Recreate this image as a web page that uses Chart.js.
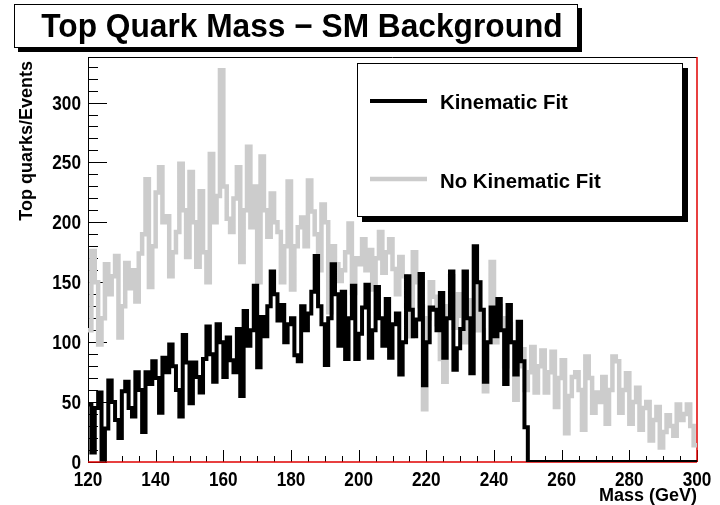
<!DOCTYPE html>
<html>
<head>
<meta charset="utf-8">
<script src="https://cdn.jsdelivr.net/npm/chart.js@4.4.1/dist/chart.umd.min.js"></script>
<style>
  html, body { margin: 0; padding: 0; background: #fff; }
  canvas { display: block; }
</style>
</head>
<body>
<canvas id="massChart" width="720" height="505"></canvas>
<script>
// histogram binning: 180 bins of 1 GeV from 120 to 300
const massLow = 120;
const binWidth = 1;

// Kinematic Fit (black), one value per GeV
const kinematicFit = [
  48, 8, 45, 58, 2, 28, 68, 50, 35, 20,
  59, 67, 45, 38, 75, 60, 25, 75, 65, 84,
  70, 41, 87, 75, 98, 80, 60, 38, 106, 83,
  49, 83, 71, 58, 86, 113, 90, 67, 115, 100,
  71, 104, 85, 75, 111, 55, 126, 97, 110, 147,
  79, 121, 105, 130, 159, 140, 118, 131, 100, 115,
  120, 89, 84, 130, 110, 124, 142, 172, 130, 115,
  81, 120, 165, 140, 97, 142, 86, 120, 147, 86,
  107, 129, 148, 87, 110, 146, 120, 97, 136, 87,
  115, 124, 73, 100, 155, 127, 105, 119, 157, 64,
  100, 129, 127, 110, 141, 87, 120, 159, 77, 95,
  111, 159, 120, 74, 180, 150, 127, 67, 100, 129,
  105, 136, 110, 65, 131, 100, 73, 117, 84, 29,
  0, 0, 0, 0, 0, 0, 0, 0, 0, 0,
  0, 0, 0, 0, 0, 0, 0, 0, 0, 0,
  0, 0, 0, 0, 0, 0, 0, 0, 0, 0,
  0, 0, 0, 0, 0, 0, 0, 0, 0, 0,
  0, 0, 0, 0, 0, 0, 0, 0, 0, 0
];

// No Kinematic Fit (grey), one value per GeV
const noKinematicFit = [
  110, 176, 150, 98, 120, 165, 140, 155, 172, 104,
  130, 166, 145, 160, 134, 174, 190, 236, 146, 180,
  225, 246, 200, 205, 155, 175, 192, 249, 210, 171,
  242, 200, 163, 226, 175, 150, 257, 200, 222, 327,
  230, 203, 192, 220, 246, 167, 210, 263, 196, 230,
  150, 255, 210, 188, 224, 200, 192, 150, 180, 234,
  144, 180, 196, 204, 180, 235, 209, 190, 160, 215,
  200, 125, 180, 165, 151, 160, 175, 199, 141, 170,
  165, 186, 160, 177, 144, 170, 192, 158, 175, 186,
  161, 140, 171, 155, 130, 105, 175, 150, 130, 44,
  120, 150, 138, 115, 86, 67, 130, 155, 112, 140,
  122, 100, 120, 135, 110, 150, 110, 59, 100, 167,
  100, 130, 120, 80, 115, 100, 52, 80, 94, 60,
  75, 96, 58, 80, 93, 58, 75, 92, 46, 70,
  85, 24, 55, 71, 75, 60, 27, 88, 70, 41,
  58, 50, 71, 32, 60, 88, 84, 41, 60, 74,
  32, 50, 62, 27, 45, 50, 18, 35, 46, 12,
  25, 39, 30, 22, 48, 35, 40, 48, 30, 14
];

const xTickValues = [120, 140, 160, 180, 200, 220, 240, 260, 280, 300];
const yTickValues = [0, 50, 100, 150, 200, 250, 300];

const seriesNames = ["Kinematic Fit", "No Kinematic Fit"];
const titleText = "Top Quark Mass \u2212 SM Background";
const xTitle = "Mass (GeV)";
const yTitle = "Top quarks/Events";

const FONT = '"Liberation Sans", Arial, Helvetica, sans-serif';
const BLACK = "#000000";
const GREY = "#cccccc";
const RED = "#e00000";

// step points on bin low edges, closing point at the upper edge
function toSteps(values) {
  const pts = values.map((v, i) => ({ x: massLow + i * binWidth, y: v }));
  pts.push({ x: massLow + values.length * binWidth, y: values[values.length - 1] });
  return pts;
}

function drawText(ctx, text, x, y, size, align, sx) {
  ctx.save();
  ctx.font = "bold " + size + "px " + FONT;
  ctx.textAlign = align;
  ctx.textBaseline = "alphabetic";
  ctx.fillStyle = BLACK;
  ctx.translate(x, y);
  ctx.scale(sx, 1);
  ctx.fillText(text, 0, 0);
  ctx.restore();
}

function line(ctx, x1, y1, x2, y2) {
  ctx.beginPath();
  ctx.moveTo(x1, y1);
  ctx.lineTo(x2, y2);
  ctx.stroke();
}

// ROOT style frame: ticks inside, red bottom / right edges
const rootFrame = {
  id: "rootFrame",
  beforeDatasetsDraw(chart) {
    const { ctx, chartArea: a, scales: { x, y } } = chart;
    ctx.save();
    ctx.strokeStyle = BLACK;
    ctx.lineWidth = 1;
    for (let m = x.min; m <= x.max; m += 5) {
      const px = Math.round(x.getPixelForValue(m)) + 0.5;
      line(ctx, px, a.bottom, px, a.bottom - (m % 20 === 0 ? 12 : 6));
    }
    for (let v = 0; v <= y.max; v += 10) {
      const py = Math.round(y.getPixelForValue(v)) + 0.5;
      line(ctx, a.left, py, a.left + (v % 50 === 0 ? 19 : 10), py);
    }
    line(ctx, a.left + 0.5, a.top, a.left + 0.5, a.bottom);
    line(ctx, a.left, a.top + 0.5, a.right, a.top + 0.5);
    ctx.strokeStyle = RED;
    ctx.lineWidth = 1.5;
    line(ctx, a.left, a.bottom, a.right, a.bottom);
    line(ctx, a.right, a.top, a.right, a.bottom);
    ctx.restore();
  },
  afterDraw(chart) {
    const { ctx, chartArea: a, scales: { x, y } } = chart;
    x.ticks.forEach(t => drawText(ctx, String(t.value), x.getPixelForValue(t.value), 486, 20, "center", 0.86));
    y.ticks.forEach(t => drawText(ctx, String(t.value), 81, y.getPixelForValue(t.value) + 7, 20, "right", 0.86));

    drawText(ctx, xTitle, a.right, 501, 18, "right", 1);
    ctx.save();
    ctx.translate(32, 61);
    ctx.rotate(-Math.PI / 2);
    drawText(ctx, yTitle, 0, 0, 18, "right", 1);
    ctx.restore();

    // title box
    ctx.save();
    ctx.fillStyle = BLACK;
    ctx.fillRect(18, 8, 564, 44);
    ctx.fillStyle = "#fff";
    ctx.fillRect(14, 4, 564, 44);
    ctx.strokeStyle = BLACK;
    ctx.lineWidth = 1;
    ctx.strokeRect(14.5, 4.5, 563, 43);
    ctx.restore();
    drawText(ctx, titleText, 302, 37, 33, "center", 0.96);

    // legend box
    ctx.save();
    ctx.fillStyle = BLACK;
    ctx.fillRect(362, 68, 326, 154);
    ctx.fillStyle = "#fff";
    ctx.fillRect(357, 63, 326, 154);
    ctx.strokeStyle = BLACK;
    ctx.lineWidth = 1;
    ctx.strokeRect(357.5, 63.5, 325, 153);
    const ds = chart.data.datasets;
    [101, 179].forEach((ly, i) => {
      ctx.strokeStyle = ds[i].borderColor;
      ctx.lineWidth = ds[i].borderWidth;
      line(ctx, 370, ly, 427, ly);
    });
    ctx.restore();
    drawText(ctx, seriesNames[0], 440, 109, 21, "left", 0.97);
    drawText(ctx, seriesNames[1], 440, 188, 21, "left", 0.97);
  }
};

new Chart(document.getElementById("massChart").getContext("2d"), {
  type: "line",
  data: {
    datasets: [
      {
        label: seriesNames[0],
        data: toSteps(kinematicFit),
        borderColor: BLACK,
        borderWidth: 4,
        stepped: true,
        pointRadius: 0,
        fill: false
      },
      {
        label: seriesNames[1],
        data: toSteps(noKinematicFit),
        borderColor: GREY,
        borderWidth: 4.5,
        stepped: true,
        pointRadius: 0,
        fill: false
      }
    ]
  },
  options: {
    responsive: false,
    devicePixelRatio: 1,
    animation: false,
    events: [],
    layout: { padding: { left: 0, top: 57, right: 23, bottom: 0 } },
    plugins: { legend: { display: false }, tooltip: { enabled: false }, title: { display: false } },
    scales: {
      x: {
        type: "linear",
        min: 120,
        max: 300,
        grid: { display: false, drawTicks: false },
        border: { display: false },
        ticks: { display: false },
        afterBuildTicks(s) { s.ticks = xTickValues.map(v => ({ value: v })); },
        afterFit(s) { s.height = 43; }
      },
      y: {
        type: "linear",
        min: 0,
        max: 338,
        grid: { display: false, drawTicks: false },
        border: { display: false },
        ticks: { display: false },
        afterBuildTicks(s) { s.ticks = yTickValues.map(v => ({ value: v })); },
        afterFit(s) { s.width = 88; }
      }
    }
  },
  plugins: [rootFrame]
});
</script>
</body>
</html>
